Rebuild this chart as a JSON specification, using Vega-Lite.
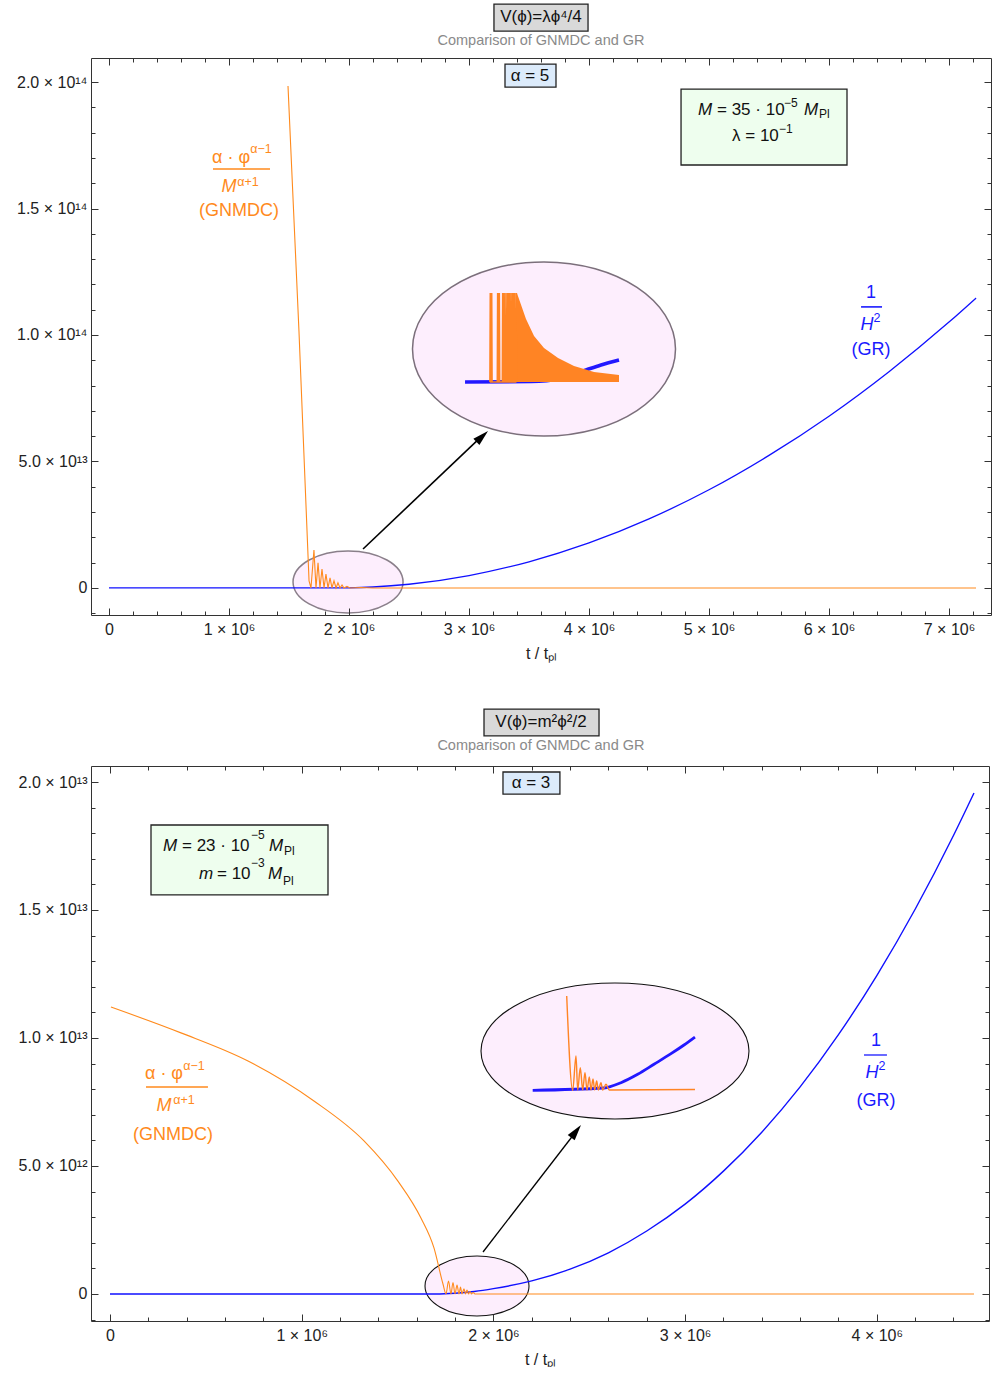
{
"$schema": "https://vega.github.io/schema/vega-lite/v6.json",
"autosize": {"type": "pad"},
"padding": {"left": 16, "top": 3, "right": 0, "bottom": 0},
"background": "white",
"config": {"font": "Liberation Sans", "view": {"stroke": null}, "axis": {"grid": false}},
"spacing": 151,
"bounds": "flush",
"datasets": {
"topOrange": [
{"t":1491700,"v":1.984e14},{"t":1583000,"v":1.016e14},{"t":1667000,"v":2.77e12},{"t":1683000,"v":0},{"t":1708000,"v":1.50e13},{"t":1725000,"v":0},{"t":1742000,"v":9.9e12},{"t":1758000,"v":0},{"t":1775000,"v":7.5e12},{"t":1792000,"v":0},{"t":1808000,"v":5.5e12},{"t":1825000,"v":0},{"t":1842000,"v":4.0e12},{"t":1858000,"v":0},{"t":1875000,"v":2.8e12},{"t":1892000,"v":0},{"t":1908000,"v":2.0e12},{"t":1925000,"v":0},{"t":1942000,"v":1.2e12},{"t":1958000,"v":0},{"t":1983000,"v":6e11},{"t":2008000,"v":0},{"t":2100000,"v":2e11},{"t":2200000,"v":0},{"t":7225000,"v":0}
],
"topBlue": [
{"t":0,"v":0},{"t":1900000,"v":0},{"t":2000000,"v":4e10},{"t":2200000,"v":3.6e11},{"t":2500000,"v":1.45e12},{"t":3000000,"v":4.89e12},{"t":3500000,"v":1.034e13},{"t":4000000,"v":1.78e13},{"t":4500000,"v":2.73e13},{"t":5000000,"v":3.88e13},{"t":5500000,"v":5.24e13},{"t":6000000,"v":6.79e13},{"t":6500000,"v":8.55e13},{"t":7000000,"v":1.051e14},{"t":7225000,"v":1.146e14}
],
"topInsetBlue": [
{"t":2967000,"v":8.142e13},{"t":3517000,"v":8.162e13},{"t":3767000,"v":8.281e13},{"t":3975000,"v":8.617e13},{"t":4100000,"v":8.814e13},{"t":4250000,"v":9.012e13}
],
"topInsetArea": [
{"t":3392000,"v":1.166e14},{"t":3400000,"v":1.166e14},{"t":3408000,"v":1.154e14},{"t":3475000,"v":1.063e14},{"t":3542000,"v":9.96e13},{"t":3625000,"v":9.49e13},{"t":3742000,"v":9.09e13},{"t":3875000,"v":8.77e13},{"t":4042000,"v":8.54e13},{"t":4250000,"v":8.42e13}
],
"topInsetSpikes": [
{"t":3174500,"v":8.142e13},{"t":3177500,"v":1.166e14},{"t":3180500,"v":8.142e13},
{"t":3186000,"v":8.142e13},{"t":3189000,"v":1.166e14},{"t":3192000,"v":8.142e13},
{"t":3236000,"v":8.142e13},{"t":3239000,"v":1.166e14},{"t":3242000,"v":8.142e13},
{"t":3249500,"v":8.142e13},{"t":3252500,"v":1.166e14},{"t":3255500,"v":8.142e13},
{"t":3278000,"v":8.142e13},{"t":3281000,"v":1.166e14},{"t":3284000,"v":8.142e13},
{"t":3290000,"v":8.142e13},{"t":3293000,"v":1.166e14},{"t":3296000,"v":8.142e13},
{"t":3305000,"v":8.142e13},{"t":3308000,"v":1.166e14},{"t":3311000,"v":8.142e13},
{"t":3319500,"v":8.142e13},{"t":3322500,"v":1.166e14},{"t":3325500,"v":8.142e13},
{"t":3333000,"v":8.142e13},{"t":3336000,"v":1.166e14},{"t":3339000,"v":8.142e13},
{"t":3347000,"v":8.142e13},{"t":3350000,"v":1.166e14},{"t":3353000,"v":8.142e13},
{"t":3361000,"v":8.142e13},{"t":3364000,"v":1.166e14},{"t":3367000,"v":8.142e13},
{"t":3374500,"v":8.142e13},{"t":3377500,"v":1.166e14},{"t":3380500,"v":8.142e13},
{"t":3389000,"v":8.142e13},{"t":3392000,"v":1.166e14},{"t":3395000,"v":8.142e13}
],
"topPts": [
{"id":"big","t":3625000,"v":9.447e13},{"id":"small","t":1992000,"v":2.37e12},{"id":"head","t":3110000,"v":5.99e13}
],
"topRules": [
{"kind":"arrow","t":2117000,"v":1.54e13,"t2":3083000,"v2":5.89e13},
{"kind":"orange","t":866700,"v":1.656e14,"t2":1341700,"v2":1.656e14},
{"kind":"blue","t":6267000,"v":1.111e14,"t2":6442000,"v2":1.111e14}
],
"topBoxes": [
{"box":"title","t":3208000,"t2":3992000,"v":2.2016e14,"v2":2.308e14},
{"box":"alpha","t":3300000,"t2":3725000,"v":1.980e14,"v2":2.071e14},
{"box":"param","t":4767000,"t2":6150000,"v":1.672e14,"v2":1.972e14}
],
"topTexts": [
{"style":"title","label":"V(ϕ)=λϕ⁴/4","t":3600000,"v":2.257e14},
{"style":"sub","label":"Comparison of GNMDC and GR","t":3600000,"v":2.162e14},
{"style":"box","label":"α = 5","t":3508000,"v":2.024e14},
{"style":"boxLI","label":"M","t":4908300,"v":1.8893e14},
{"style":"boxL","label":"= 35 · 10","t":5066700,"v":1.8893e14},
{"style":"boxS","label":"−5","t":5625000,"v":1.917e14},
{"style":"boxLI","label":"M","t":5791700,"v":1.8893e14},
{"style":"boxS","label":"Pl","t":5916700,"v":1.8735e14},
{"style":"boxL","label":"λ = 10","t":5191700,"v":1.7866e14},
{"style":"boxS","label":"−1","t":5583300,"v":1.8142e14},
{"style":"orange","label":"α · φ","t":1016700,"v":1.6996e14},
{"style":"orangeS","label":"α−1","t":1266700,"v":1.7352e14},
{"style":"orangeI","label":"M","t":1000000,"v":1.585e14},
{"style":"orangeS","label":"α+1","t":1158300,"v":1.6047e14},
{"style":"orange","label":"(GNMDC)","t":1083300,"v":1.49e14},
{"style":"blue","label":"1","t":6350000,"v":1.166e14},
{"style":"blueI","label":"H","t":6316700,"v":1.0395e14},
{"style":"blueS","label":"2","t":6400000,"v":1.0672e14},
{"style":"blue","label":"(GR)","t":6350000,"v":9.407e13}
],
"botOrange": [
{"t":5000,"v":1.121e13},{"t":370000,"v":1.020e13},{"t":720000,"v":9.1e12},{"t":1064000,"v":7.54e12},{"t":1325000,"v":5.98e12},{"t":1502000,"v":4.41e12},{"t":1622000,"v":2.97e12},{"t":1690000,"v":1.80e12},{"t":1737000,"v":3.9e11},{"t":1752700,"v":0},{"t":1765800,"v":5.1e11},{"t":1778800,"v":0},{"t":1789200,"v":4.5e11},{"t":1799700,"v":0},{"t":1810200,"v":3.5e11},{"t":1820600,"v":0},{"t":1828400,"v":2.7e11},{"t":1836200,"v":0},{"t":1846600,"v":2.0e11},{"t":1854500,"v":0},{"t":1862300,"v":1.5e11},{"t":1870100,"v":0},{"t":1877900,"v":1.0e11},{"t":1885800,"v":0},{"t":1893600,"v":6e10},{"t":1904000,"v":0},{"t":4507000,"v":0}
],
"botBlue": [
{"t":0,"v":0},{"t":1700000,"v":0},{"t":1800000,"v":3e10},{"t":1900000,"v":1e11},{"t":2000000,"v":2.1e11},{"t":2200000,"v":5.1e11},{"t":2400000,"v":9.7e11},{"t":2600000,"v":1.61e12},{"t":2800000,"v":2.46e12},{"t":3000000,"v":3.51e12},{"t":3200000,"v":4.80e12},{"t":3400000,"v":6.32e12},{"t":3600000,"v":8.09e12},{"t":3800000,"v":1.013e13},{"t":4000000,"v":1.244e13},{"t":4200000,"v":1.503e13},{"t":4400000,"v":1.791e13},{"t":4507000,"v":1.957e13}
],
"botInsetOrange": [
{"t":2382400,"v":1.164e13},{"t":2413700,"v":7.957e12},{"t":2430900,"v":9.297e12},{"t":2439700,"v":7.969e12},{"t":2453300,"v":8.840e12},{"t":2465800,"v":7.969e12},{"t":2477800,"v":8.645e12},{"t":2488300,"v":7.969e12},{"t":2500300,"v":8.477e12},{"t":2509100,"v":7.969e12},{"t":2519600,"v":8.398e12},{"t":2528400,"v":7.969e12},{"t":2538900,"v":8.320e12},{"t":2547200,"v":7.969e12},{"t":2561300,"v":8.254e12},{"t":2570200,"v":7.969e12},{"t":2587400,"v":8.191e12},{"t":2604600,"v":7.969e12},{"t":3051600,"v":7.988e12}
],
"botInsetBlue": [
{"t":2205000,"v":7.957e12},{"t":2577000,"v":8.047e12},{"t":2665600,"v":8.254e12},{"t":2752700,"v":8.582e12},{"t":2837800,"v":8.973e12},{"t":2926500,"v":9.387e12},{"t":2994300,"v":9.727e12},{"t":3051600,"v":1.0039e13}
],
"botPts": [
{"id":"big","t":2634300,"v":9.492e12},{"id":"small","t":1914500,"v":3.125e11},{"id":"head","t":2431400,"v":6.355e12}
],
"botRules": [
{"kind":"arrow","t":1945800,"v":1.64e12,"t2":2419000,"v2":6.23e12},
{"kind":"orange","t":187800,"v":8.086e12,"t2":511000,"v2":8.086e12},
{"kind":"blue","t":3933000,"v":9.336e12,"t2":4053000,"v2":9.336e12}
],
"botBoxes": [
{"box":"title","t":1951000,"t2":2551000,"v":2.180e13,"v2":2.285e13},
{"box":"alpha","t":2050000,"t2":2347000,"v":1.953e13,"v2":2.039e13},
{"box":"param","t":213900,"t2":1137200,"v":1.559e13,"v2":1.832e13}
],
"botTexts": [
{"style":"title","label":"V(ϕ)=m²ϕ²/2","t":2248000,"v":2.234e13},
{"style":"sub","label":"Comparison of GNMDC and GR","t":2248000,"v":2.141e13},
{"style":"box","label":"α = 3","t":2196000,"v":1.996e13},
{"style":"boxLI","label":"M","t":276500,"v":1.750e13},
{"style":"boxL","label":"= 23 · 10","t":375600,"v":1.750e13},
{"style":"boxS","label":"−5","t":735600,"v":1.793e13},
{"style":"boxLI","label":"M","t":829400,"v":1.750e13},
{"style":"boxS","label":"Pl","t":907700,"v":1.7305e13},
{"style":"boxLI","label":"m","t":464300,"v":1.6406e13},
{"style":"boxL","label":"= 10","t":558200,"v":1.6406e13},
{"style":"boxS","label":"−3","t":735600,"v":1.6836e13},
{"style":"boxLI","label":"M","t":824200,"v":1.6406e13},
{"style":"boxS","label":"Pl","t":902500,"v":1.6133e13},
{"style":"orange","label":"α · φ","t":281700,"v":8.594e12},
{"style":"orangeS","label":"α−1","t":438200,"v":8.906e12},
{"style":"orangeI","label":"M","t":281700,"v":7.344e12},
{"style":"orangeS","label":"α+1","t":386000,"v":7.578e12},
{"style":"orange","label":"(GNMDC)","t":328600,"v":6.211e12},
{"style":"blue","label":"1","t":3996000,"v":9.883e12},
{"style":"blueI","label":"H","t":3975000,"v":8.633e12},
{"style":"blueS","label":"2","t":4027000,"v":8.906e12},
{"style":"blue","label":"(GR)","t":3996000,"v":7.539e12}
]
},
"vconcat": [
{
"width": 900, "height": 557,
"encoding": {
"x": {"field":"t","type":"quantitative","scale":{"domain":[-150000,7350000],"nice":false,"zero":false},"axis":null},
"y": {"field":"v","type":"quantitative","scale":{"domain":[-1.07e13,2.095e14],"nice":false,"zero":false},"axis":null}
},
"resolve": {"axis": {"x":"independent","y":"independent"}},
"layer": [
{"data":{"name":"topPts"},"transform":[{"filter":"datum.id==='big'"}],
 "mark":{"type":"point","shape":"M-1,0C-1,-0.3656 -0.5523,-0.662 0,-0.662C0.5523,-0.662 1,-0.3656 1,0C1,0.3656 0.5523,0.662 0,0.662C-0.5523,0.662 -1,0.3656 -1,0Z","size":69169,"filled":true,"fill":"#fdeefd","stroke":"#7b6f7b","strokeWidth":1.5,"opacity":1}},
{"data":{"name":"topPts"},"transform":[{"filter":"datum.id==='small'"}],
 "mark":{"type":"point","shape":"M-1,0C-1,-0.3115 -0.5523,-0.564 0,-0.564C0.5523,-0.564 1,-0.3115 1,0C1,0.3115 0.5523,0.564 0,0.564C-0.5523,0.564 -1,0.3115 -1,0Z","size":12100,"filled":true,"fill":"#fdeefd","stroke":"#8a7f8a","strokeWidth":1.5,"opacity":1}},
{"data":{"name":"topBlue"},"mark":{"type":"line","color":"#1010ff","strokeWidth":1.3,"interpolate":"monotone"},
 "encoding":{
  "x":{"field":"t","type":"quantitative","scale":{"domain":[-150000,7350000],"nice":false,"zero":false},
   "axis":{"orient":"bottom","values":[0,200000,400000,600000,800000,1000000,1200000,1400000,1600000,1800000,2000000,2200000,2400000,2600000,2800000,3000000,3200000,3400000,3600000,3800000,4000000,4200000,4400000,4600000,4800000,5000000,5200000,5400000,5600000,5800000,6000000,6200000,6400000,6600000,6800000,7000000,7200000],"labels":false,"title":null,"domain":true,"domainColor":"#333","tickColor":"#333","tickSize":{"condition":{"test":"datum.value % 1000000 === 0","value":-7},"value":-4},"zindex":1}},
  "y":{"field":"v","type":"quantitative","scale":{"domain":[-1.07e13,2.095e14],"nice":false,"zero":false},
   "axis":{"orient":"left","values":[-1e13,0,1e13,2e13,3e13,4e13,5e13,6e13,7e13,8e13,9e13,1e14,1.1e14,1.2e14,1.3e14,1.4e14,1.5e14,1.6e14,1.7e14,1.8e14,1.9e14,2e14],"labels":false,"title":null,"domain":true,"domainColor":"#333","tickColor":"#333","tickSize":{"condition":{"test":"datum.value % 50000000000000 === 0","value":-7},"value":-4},"zindex":1}}
 }},
{"data":{"name":"topOrange"},"mark":{"type":"line","color":"#ff8a1c","strokeWidth":1.1},
 "encoding":{
  "x":{"field":"t","type":"quantitative","scale":{"domain":[-150000,7350000],"nice":false,"zero":false},
   "axis":{"orient":"bottom","values":[0,1000000,2000000,3000000,4000000,5000000,6000000,7000000],"ticks":false,"domain":false,"labelExpr":"datum.value === 0 ? '0' : format(datum.value/1e6,'d') + ' × 10⁶'","labelFontSize":16,"labelColor":"#222","labelPadding":6,"labelFlush":false,"labelOverlap":false,"title":"t / tₚₗ","titleFontSize":16,"titleFontWeight":"normal","titleColor":"#222","titlePadding":8}},
  "y":{"field":"v","type":"quantitative","scale":{"domain":[-1.07e13,2.095e14],"nice":false,"zero":false},
   "axis":{"orient":"left","values":[0,5e13,1e14,1.5e14,2e14],"ticks":false,"domain":false,"labelExpr":"datum.value === 0 ? '0' : datum.value < 1e14 ? format(datum.value/1e13,'.1f') + ' × 10¹³' : format(datum.value/1e14,'.1f') + ' × 10¹⁴'","labelFontSize":16,"labelColor":"#222","labelPadding":4,"labelFlush":false,"labelOverlap":false,"title":null}}
 }},
{"data":{"name":"topInsetBlue"},"mark":{"type":"line","color":"#2218ff","strokeWidth":3.5,"interpolate":"monotone"}},
{"data":{"name":"topInsetArea"},"mark":{"type":"area","color":"#ff8424","opacity":1},"encoding":{"y2":{"datum":8.142e13}}},
{"data":{"name":"topInsetSpikes"},"mark":{"type":"line","color":"#ff8424","strokeWidth":1.6}},
{"data":{"name":"topRules"},"mark":{"type":"rule","strokeWidth":1.6},
 "encoding":{"x2":{"field":"t2"},"y2":{"field":"v2"},"color":{"field":"kind","type":"nominal","scale":{"domain":["arrow","orange","blue","orangeI","blueI","orangeS","blueS"],"range":["#000000","#ff8a1c","#1a1aff","#ff8a1c","#1a1aff","#ff8a1c","#1a1aff"]},"legend":null}}},
{"data":{"name":"topPts"},"transform":[{"filter":"datum.id==='head'"}],
 "mark":{"type":"point","shape":"M0,-1L0.55,1L-0.55,1Z","angle":46.6,"size":256,"filled":true,"color":"#000000","opacity":1}},
{"data":{"name":"topBoxes"},"mark":{"type":"rect","stroke":"#222","strokeWidth":1.3},
 "encoding":{"x2":{"field":"t2"},"y2":{"field":"v2"},"fill":{"field":"box","type":"nominal","scale":{"domain":["title","alpha","param"],"range":["#d9d9d9","#dcebfb","#eefeee"]},"legend":null}}},
{"data":{"name":"topTexts"},"transform":[{"filter":"datum.style==='title'"}],"mark":{"type":"text","fontSize":17,"color":"#111","align":"center","baseline":"middle"},"encoding":{"text":{"field":"label"}}},
{"data":{"name":"topTexts"},"transform":[{"filter":"datum.style==='sub'"}],"mark":{"type":"text","fontSize":14.5,"color":"#8a8a8a","align":"center","baseline":"middle"},"encoding":{"text":{"field":"label"}}},
{"data":{"name":"topTexts"},"transform":[{"filter":"datum.style==='box'"}],"mark":{"type":"text","fontSize":17,"color":"#111","align":"center","baseline":"middle"},
 "encoding":{"text":{"field":"label"},
  "x":{"field":"t","type":"quantitative","scale":{"domain":[-150000,7350000],"nice":false,"zero":false},
   "axis":{"orient":"top","values":[0,200000,400000,600000,800000,1000000,1200000,1400000,1600000,1800000,2000000,2200000,2400000,2600000,2800000,3000000,3200000,3400000,3600000,3800000,4000000,4200000,4400000,4600000,4800000,5000000,5200000,5400000,5600000,5800000,6000000,6200000,6400000,6600000,6800000,7000000,7200000],"labels":false,"title":null,"domain":true,"domainColor":"#333","tickColor":"#333","tickSize":{"condition":{"test":"datum.value % 1000000 === 0","value":-7},"value":-4},"zindex":1}},
  "y":{"field":"v","type":"quantitative","scale":{"domain":[-1.07e13,2.095e14],"nice":false,"zero":false},
   "axis":{"orient":"right","values":[-1e13,0,1e13,2e13,3e13,4e13,5e13,6e13,7e13,8e13,9e13,1e14,1.1e14,1.2e14,1.3e14,1.4e14,1.5e14,1.6e14,1.7e14,1.8e14,1.9e14,2e14],"labels":false,"title":null,"domain":true,"domainColor":"#333","tickColor":"#333","tickSize":{"condition":{"test":"datum.value % 50000000000000 === 0","value":-7},"value":-4},"zindex":1}}
 }},
{"data":{"name":"topTexts"},"transform":[{"filter":"datum.style==='boxL'"}],"mark":{"type":"text","fontSize":17,"color":"#111","align":"left","baseline":"middle"},"encoding":{"text":{"field":"label"}}},
{"data":{"name":"topTexts"},"transform":[{"filter":"datum.style==='boxLI'"}],"mark":{"type":"text","fontSize":17,"fontStyle":"italic","color":"#111","align":"left","baseline":"middle"},"encoding":{"text":{"field":"label"}}},
{"data":{"name":"topTexts"},"transform":[{"filter":"datum.style==='boxS'"}],"mark":{"type":"text","fontSize":12,"color":"#111","align":"left","baseline":"middle"},"encoding":{"text":{"field":"label"}}},
{"data":{"name":"topTexts"},"transform":[{"filter":"datum.style==='orange' || datum.style==='blue'"}],"mark":{"type":"text","fontSize":18,"align":"center","baseline":"middle"},
 "encoding":{"text":{"field":"label"},"color":{"field":"style","type":"nominal","scale":{"domain":["arrow","orange","blue","orangeI","blueI","orangeS","blueS"],"range":["#000000","#ff8a1c","#1a1aff","#ff8a1c","#1a1aff","#ff8a1c","#1a1aff"]},"legend":null}}},
{"data":{"name":"topTexts"},"transform":[{"filter":"datum.style==='orangeI' || datum.style==='blueI'"}],"mark":{"type":"text","fontSize":18,"fontStyle":"italic","align":"center","baseline":"middle"},
 "encoding":{"text":{"field":"label"},"color":{"field":"style","type":"nominal","scale":{"domain":["arrow","orange","blue","orangeI","blueI","orangeS","blueS"],"range":["#000000","#ff8a1c","#1a1aff","#ff8a1c","#1a1aff","#ff8a1c","#1a1aff"]},"legend":null}}},
{"data":{"name":"topTexts"},"transform":[{"filter":"datum.style==='orangeS' || datum.style==='blueS'"}],"mark":{"type":"text","fontSize":12.5,"align":"center","baseline":"middle"},
 "encoding":{"text":{"field":"label"},"color":{"field":"style","type":"nominal","scale":{"domain":["arrow","orange","blue","orangeI","blueI","orangeS","blueS"],"range":["#000000","#ff8a1c","#1a1aff","#ff8a1c","#1a1aff","#ff8a1c","#1a1aff"]},"legend":null}}}
]
},
{
"width": 898, "height": 555,
"encoding": {
"x": {"field":"t","type":"quantitative","scale":{"domain":[-99100,4585300],"nice":false,"zero":false},"axis":null},
"y": {"field":"v","type":"quantitative","scale":{"domain":[-1.0547e12,2.0625e13],"nice":false,"zero":false},"axis":null}
},
"resolve": {"axis": {"x":"independent","y":"independent"}},
"layer": [
{"data":{"name":"botPts"},"transform":[{"filter":"datum.id==='big'"}],
 "mark":{"type":"point","shape":"M-1,0C-1,-0.28 -0.5523,-0.507 0,-0.507C0.5523,-0.507 1,-0.28 1,0C1,0.28 0.5523,0.507 0,0.507C-0.5523,0.507 -1,0.28 -1,0Z","size":71824,"filled":true,"fill":"#fdeefd","stroke":"#111","strokeWidth":1.1,"opacity":1}},
{"data":{"name":"botPts"},"transform":[{"filter":"datum.id==='small'"}],
 "mark":{"type":"point","shape":"M-1,0C-1,-0.3187 -0.5523,-0.577 0,-0.577C0.5523,-0.577 1,-0.3187 1,0C1,0.3187 0.5523,0.577 0,0.577C-0.5523,0.577 -1,0.3187 -1,0Z","size":10816,"filled":true,"fill":"#fdeefd","stroke":"#111","strokeWidth":1.1,"opacity":1}},
{"data":{"name":"botBlue"},"mark":{"type":"line","color":"#1010ff","strokeWidth":1.4,"interpolate":"monotone"},
 "encoding":{
  "x":{"field":"t","type":"quantitative","scale":{"domain":[-99100,4585300],"nice":false,"zero":false},
   "axis":{"orient":"bottom","values":[0,200000,400000,600000,800000,1000000,1200000,1400000,1600000,1800000,2000000,2200000,2400000,2600000,2800000,3000000,3200000,3400000,3600000,3800000,4000000,4200000,4400000],"labels":false,"title":null,"domain":true,"domainColor":"#333","tickColor":"#333","tickSize":{"condition":{"test":"datum.value % 1000000 === 0","value":-7},"value":-4},"zindex":1}},
  "y":{"field":"v","type":"quantitative","scale":{"domain":[-1.0547e12,2.0625e13],"nice":false,"zero":false},
   "axis":{"orient":"left","values":[-1e12,0,1e12,2e12,3e12,4e12,5e12,6e12,7e12,8e12,9e12,1e13,1.1e13,1.2e13,1.3e13,1.4e13,1.5e13,1.6e13,1.7e13,1.8e13,1.9e13,2e13],"labels":false,"title":null,"domain":true,"domainColor":"#333","tickColor":"#333","tickSize":{"condition":{"test":"datum.value % 5000000000000 === 0","value":-7},"value":-4},"zindex":1}}
 }},
{"data":{"name":"botOrange"},"mark":{"type":"line","color":"#ff8a1c","strokeWidth":1.1,"interpolate":"monotone"},
 "encoding":{
  "x":{"field":"t","type":"quantitative","scale":{"domain":[-99100,4585300],"nice":false,"zero":false},
   "axis":{"orient":"bottom","values":[0,1000000,2000000,3000000,4000000],"ticks":false,"domain":false,"labelExpr":"datum.value === 0 ? '0' : format(datum.value/1e6,'d') + ' × 10⁶'","labelFontSize":16,"labelColor":"#222","labelPadding":6,"labelFlush":false,"labelOverlap":false,"title":"t / tₚₗ","titleFontSize":16,"titleFontWeight":"normal","titleColor":"#222","titlePadding":8}},
  "y":{"field":"v","type":"quantitative","scale":{"domain":[-1.0547e12,2.0625e13],"nice":false,"zero":false},
   "axis":{"orient":"left","values":[0,5e12,1e13,1.5e13,2e13],"ticks":false,"domain":false,"labelExpr":"datum.value === 0 ? '0' : datum.value < 1e13 ? format(datum.value/1e12,'.1f') + ' × 10¹²' : format(datum.value/1e13,'.1f') + ' × 10¹³'","labelFontSize":16,"labelColor":"#222","labelPadding":4,"labelFlush":false,"labelOverlap":false,"title":null}}
 }},
{"data":{"name":"botInsetBlue"},"mark":{"type":"line","color":"#2218ff","strokeWidth":2.8,"interpolate":"monotone"}},
{"data":{"name":"botInsetOrange"},"mark":{"type":"line","color":"#ff8424","strokeWidth":1.4,"interpolate":"monotone"}},
{"data":{"name":"botRules"},"mark":{"type":"rule","strokeWidth":1.3},
 "encoding":{"x2":{"field":"t2"},"y2":{"field":"v2"},"color":{"field":"kind","type":"nominal","scale":{"domain":["arrow","orange","blue","orangeI","blueI","orangeS","blueS"],"range":["#000000","#ff8a1c","#1a1aff","#ff8a1c","#1a1aff","#ff8a1c","#1a1aff"]},"legend":null}}},
{"data":{"name":"botPts"},"transform":[{"filter":"datum.id==='head'"}],
 "mark":{"type":"point","shape":"M0,-1L0.55,1L-0.55,1Z","angle":37.7,"size":256,"filled":true,"color":"#000000","opacity":1}},
{"data":{"name":"botBoxes"},"mark":{"type":"rect","stroke":"#222","strokeWidth":1.3},
 "encoding":{"x2":{"field":"t2"},"y2":{"field":"v2"},"fill":{"field":"box","type":"nominal","scale":{"domain":["title","alpha","param"],"range":["#d9d9d9","#dcebfb","#eefeee"]},"legend":null}}},
{"data":{"name":"botTexts"},"transform":[{"filter":"datum.style==='title'"}],"mark":{"type":"text","fontSize":17,"color":"#111","align":"center","baseline":"middle"},"encoding":{"text":{"field":"label"}}},
{"data":{"name":"botTexts"},"transform":[{"filter":"datum.style==='sub'"}],"mark":{"type":"text","fontSize":14.5,"color":"#8a8a8a","align":"center","baseline":"middle"},"encoding":{"text":{"field":"label"}}},
{"data":{"name":"botTexts"},"transform":[{"filter":"datum.style==='box'"}],"mark":{"type":"text","fontSize":17,"color":"#111","align":"center","baseline":"middle"},
 "encoding":{"text":{"field":"label"},
  "x":{"field":"t","type":"quantitative","scale":{"domain":[-99100,4585300],"nice":false,"zero":false},
   "axis":{"orient":"top","values":[0,200000,400000,600000,800000,1000000,1200000,1400000,1600000,1800000,2000000,2200000,2400000,2600000,2800000,3000000,3200000,3400000,3600000,3800000,4000000,4200000,4400000],"labels":false,"title":null,"domain":true,"domainColor":"#333","tickColor":"#333","tickSize":{"condition":{"test":"datum.value % 1000000 === 0","value":-7},"value":-4},"zindex":1}},
  "y":{"field":"v","type":"quantitative","scale":{"domain":[-1.0547e12,2.0625e13],"nice":false,"zero":false},
   "axis":{"orient":"right","values":[-1e12,0,1e12,2e12,3e12,4e12,5e12,6e12,7e12,8e12,9e12,1e13,1.1e13,1.2e13,1.3e13,1.4e13,1.5e13,1.6e13,1.7e13,1.8e13,1.9e13,2e13],"labels":false,"title":null,"domain":true,"domainColor":"#333","tickColor":"#333","tickSize":{"condition":{"test":"datum.value % 5000000000000 === 0","value":-7},"value":-4},"zindex":1}}
 }},
{"data":{"name":"botTexts"},"transform":[{"filter":"datum.style==='boxL'"}],"mark":{"type":"text","fontSize":17,"color":"#111","align":"left","baseline":"middle"},"encoding":{"text":{"field":"label"}}},
{"data":{"name":"botTexts"},"transform":[{"filter":"datum.style==='boxLI'"}],"mark":{"type":"text","fontSize":17,"fontStyle":"italic","color":"#111","align":"left","baseline":"middle"},"encoding":{"text":{"field":"label"}}},
{"data":{"name":"botTexts"},"transform":[{"filter":"datum.style==='boxS'"}],"mark":{"type":"text","fontSize":12,"color":"#111","align":"left","baseline":"middle"},"encoding":{"text":{"field":"label"}}},
{"data":{"name":"botTexts"},"transform":[{"filter":"datum.style==='orange' || datum.style==='blue'"}],"mark":{"type":"text","fontSize":18,"align":"center","baseline":"middle"},
 "encoding":{"text":{"field":"label"},"color":{"field":"style","type":"nominal","scale":{"domain":["arrow","orange","blue","orangeI","blueI","orangeS","blueS"],"range":["#000000","#ff8a1c","#1a1aff","#ff8a1c","#1a1aff","#ff8a1c","#1a1aff"]},"legend":null}}},
{"data":{"name":"botTexts"},"transform":[{"filter":"datum.style==='orangeI' || datum.style==='blueI'"}],"mark":{"type":"text","fontSize":18,"fontStyle":"italic","align":"center","baseline":"middle"},
 "encoding":{"text":{"field":"label"},"color":{"field":"style","type":"nominal","scale":{"domain":["arrow","orange","blue","orangeI","blueI","orangeS","blueS"],"range":["#000000","#ff8a1c","#1a1aff","#ff8a1c","#1a1aff","#ff8a1c","#1a1aff"]},"legend":null}}},
{"data":{"name":"botTexts"},"transform":[{"filter":"datum.style==='orangeS' || datum.style==='blueS'"}],"mark":{"type":"text","fontSize":12.5,"align":"center","baseline":"middle"},
 "encoding":{"text":{"field":"label"},"color":{"field":"style","type":"nominal","scale":{"domain":["arrow","orange","blue","orangeI","blueI","orangeS","blueS"],"range":["#000000","#ff8a1c","#1a1aff","#ff8a1c","#1a1aff","#ff8a1c","#1a1aff"]},"legend":null}}}
]
}
]
}
